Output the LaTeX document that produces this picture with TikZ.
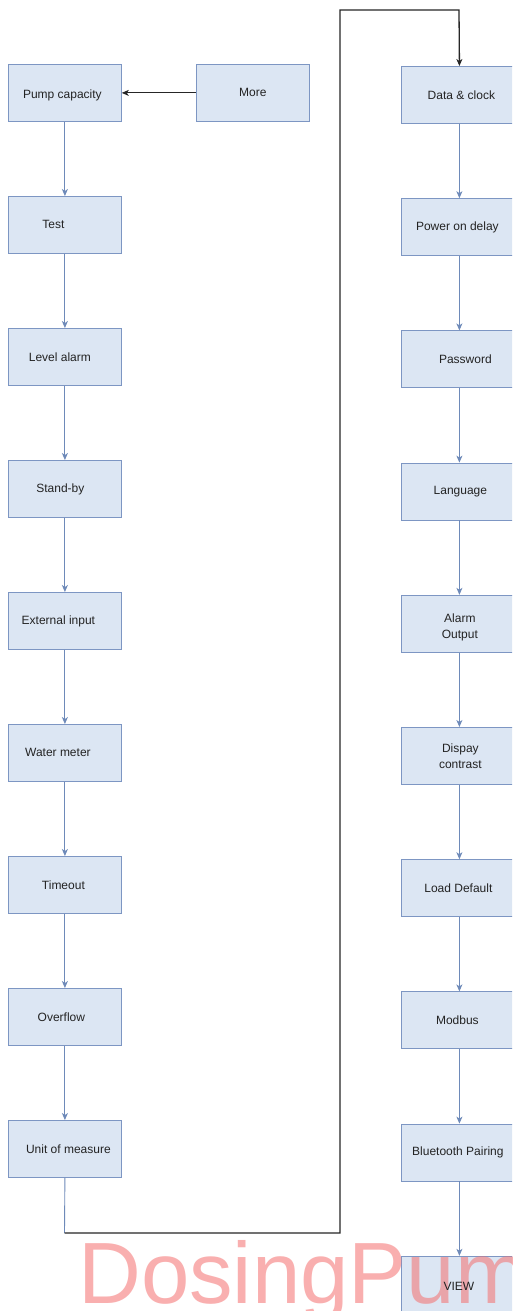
\documentclass[tikz,border=0pt]{standalone}
\usepackage{fontspec}
\setmainfont{Liberation Sans}
\usetikzlibrary{arrows.meta}
\definecolor{boxfill}{RGB}{220,230,243}
\definecolor{boxline}{RGB}{125,150,195}
\definecolor{arr}{RGB}{110,138,185}
\definecolor{wm}{RGB}{245,110,110}
\definecolor{txt}{RGB}{35,35,35}
\begin{document}
\begin{tikzpicture}[x=1pt,y=-1pt,
  box/.style={draw=boxline,fill=boxfill,line width=0.8pt,minimum width=113pt,minimum height=57pt,inner sep=0pt,anchor=north west},
  rbox/.style={box,minimum width=116pt},
  lbl/.style={text=txt,font=\fontsize{12}{16}\selectfont,inner sep=0pt,align=center},
  flow/.style={draw=arr,line width=0.9pt,-{Stealth[length=7pt,width=6pt,inset=2pt]}},
  blkarrow/.style={draw=black!85,line width=0.9pt,-{Stealth[length=7pt,width=6pt,inset=2pt]}},
  loopline/.style={draw=black!85,line width=1.3pt}]
\clip (0,0) rectangle (512,1311);
\fill[white] (0,0) rectangle (512,1311);
% left column
\node[box] (l1) at (8,64) {};
\node[box] (l2) at (8,196) {};
\node[box] (l3) at (8,328) {};
\node[box] (l4) at (8,460) {};
\node[box] (l5) at (8,592) {};
\node[box] (l6) at (8,724) {};
\node[box] (l7) at (8,856) {};
\node[box] (l8) at (8,988) {};
\node[box] (l9) at (8,1120) {};
\node[box] (more) at (196,64) {};
% right column
\node[rbox] (r1) at (401,66) {};
\node[rbox] (r2) at (401,198.2) {};
\node[rbox] (r3) at (401,330.4) {};
\node[rbox] (r4) at (401,462.6) {};
\node[rbox] (r5) at (401,594.8) {};
\node[rbox] (r6) at (401,727) {};
\node[rbox] (r7) at (401,859.2) {};
\node[rbox] (r8) at (401,991.4) {};
\node[rbox] (r9) at (401,1123.6) {};
\node[rbox] (r10) at (401,1255.8) {};
% connectors
\foreach \a/\b in {l1/l2,l2/l3,l3/l4,l4/l5,l5/l6,l6/l7,l7/l8,l8/l9,r1/r2,r2/r3,r3/r4,r4/r5,r5/r6,r6/r7,r7/r8,r8/r9,r9/r10}
  \draw[flow] (\a.south) -- (\b.north);
\draw[blkarrow] (more.west) -- (l1.east);
\coordinate (c1) at (64.5,1233);
\coordinate (c2) at (340,1233);
\coordinate (c3) at (340,10);
\coordinate (c4) at (459,10);
\draw[draw=arr,line width=0.9pt] (l9.south) -- (c1);
\draw[loopline] (c1) -- (c2) -- (c3) -- (c4) -- ([yshift=6pt]r1.north);
\draw[blkarrow] ([yshift=8pt]r1.north) -- (r1.north);
% watermark
\node[anchor=base west,inner sep=0pt,text=wm,opacity=0.55,font=\fontsize{87}{87}\selectfont] (wmk) at (78,1303) {DosingPum};
% labels
\node[lbl] (tl1) at ([xshift=-2.5pt,yshift=-2pt]l1.center) {Pump capacity};
\node[lbl] (tl2) at ([xshift=-11.5pt]l2.center) {Test};
\node[lbl] (tl3) at ([xshift=-5pt]l3.center) {Level alarm};
\node[lbl] (tl4) at ([xshift=-4.5pt]l4.center) {Stand-by};
\node[lbl] (tl5) at ([xshift=-6.5pt]l5.center) {External input};
\node[lbl] (tl6) at ([xshift=-7pt]l6.center) {Water meter};
\node[lbl] (tl7) at ([xshift=-1.5pt]l7.center) {Timeout};
\node[lbl] (tl8) at ([xshift=-3.5pt]l8.center) {Overflow};
\node[lbl] (tl9) at ([xshift=3.5pt]l9.center) {Unit of measure};
\node[lbl] (tmore) at (more.center) {More};
\node[lbl] (tr1) at ([xshift=2pt]r1.center) {Data \& clock};
\node[lbl] (tr2) at ([xshift=-2pt]r2.center) {Power on delay};
\node[lbl] (tr3) at ([xshift=6pt]r3.center) {Password};
\node[lbl] (tr4) at ([xshift=1pt]r4.center) {Language};
\node[lbl] (tr5) at ([xshift=0.5pt,yshift=-4pt]r5.center) {Alarm\\Output};
\node[lbl] (tr6) at ([xshift=1pt]r6.center) {Dispay\\contrast};
\node[lbl] (tr7) at ([xshift=-1pt]r7.center) {Load Default};
\node[lbl] (tr8) at ([xshift=-2pt]r8.center) {Modbus};
\node[lbl] (tr9) at ([xshift=-1.5pt]r9.center) {Bluetooth Pairing};
\node[lbl] (tr10) at ([xshift=-0.5pt,yshift=-2pt]r10.center) {VIEW};
\end{tikzpicture}
\end{document}
